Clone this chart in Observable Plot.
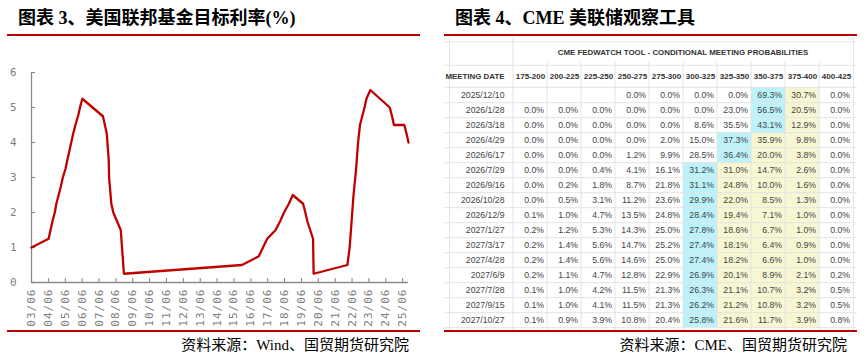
<!DOCTYPE html>
<html><head><meta charset="utf-8">
<script src="https://cdn.jsdelivr.net/npm/d3@7"></script>
<script src="https://cdn.jsdelivr.net/npm/@observablehq/plot@0.6"></script>
<style>
body{margin:0;background:#fff;}
#root{position:relative;width:867px;height:360px;background:#fff;overflow:hidden;}
.abs{position:absolute;}
.title{font-family:"Liberation Serif","Noto Sans CJK SC",serif;font-weight:bold;font-size:18px;line-height:20px;color:#000;white-space:nowrap;}
.src{font-family:"Liberation Serif","Noto Sans CJK SC",serif;font-size:15px;line-height:16px;color:#000;text-align:right;white-space:nowrap;}
.redline{background:#c00000;height:2px;}
svg{overflow:visible;}
</style></head><body>
<div id="root">
  <div class="abs title" style="left:18px;top:8px;">图表 3、美国联邦基金目标利率(%)</div>
  <div class="abs redline" style="left:7px;top:34px;width:413px;"></div>
  <div class="abs" id="left" style="left:0;top:40px;"></div>
  <div class="abs redline" style="left:7px;top:330px;width:413px;"></div>
  <div class="abs src" style="left:0;top:337px;width:409px;">资料来源：Wind、国贸期货研究院</div>

  <div class="abs title" style="left:455px;top:8px;">图表 4、CME 美联储观察工具</div>
  <div class="abs redline" style="left:444px;top:34px;width:413px;"></div>
  <div class="abs" id="right" style="left:444px;top:38px;"></div>
  <div class="abs redline" style="left:444px;top:330px;width:413px;"></div>
  <div class="abs src" style="left:444px;top:337px;width:403px;">资料来源：CME、国贸期货研究院</div>
</div>
<script>
// ---- Fed funds target rate (upper bound, %) at change points ----
const rateDates = [
  "2003-06-25","2004-06-30","2004-08-10","2004-09-21","2004-11-10","2004-12-14",
  "2005-02-02","2005-03-22","2005-05-03","2005-06-30","2005-08-09","2005-09-20","2005-11-01","2005-12-13",
  "2006-01-31","2006-03-28","2006-05-10","2006-06-29",
  "2007-09-18","2007-10-31","2007-12-11",
  "2008-01-22","2008-01-30","2008-03-18","2008-04-30","2008-10-08","2008-12-16",
  "2015-12-16","2016-12-14",
  "2017-03-15","2017-06-14","2017-12-13",
  "2018-03-21","2018-06-13","2018-09-26","2018-12-19",
  "2019-07-31","2019-09-18","2019-10-30",
  "2020-03-03","2020-03-15",
  "2022-03-16","2022-05-04","2022-06-15","2022-07-27","2022-09-21","2022-11-02","2022-12-14",
  "2023-02-01","2023-03-22","2023-05-03","2023-07-26",
  "2024-09-18","2024-11-07","2024-12-18",
  "2025-07-30","2025-09-17","2025-10-29"
];
const rateValues = [
  1.00,1.25,1.50,1.75,2.00,2.25,
  2.50,2.75,3.00,3.25,3.50,3.75,4.00,4.25,
  4.50,4.75,5.00,5.25,
  4.75,4.50,4.25,
  3.50,3.00,2.25,2.00,1.50,0.25,
  0.50,0.75,
  1.00,1.25,1.50,
  1.75,2.00,2.25,2.50,
  2.25,2.00,1.75,
  1.25,0.25,
  0.50,1.00,1.75,2.50,3.25,4.00,4.50,
  4.75,5.00,5.25,5.50,
  5.00,4.75,4.50,
  4.50,4.25,4.00
];
const xTickLabels = ["03/06","04/06","05/06","06/06","07/06","08/06","09/06","10/06","11/06","12/06","13/06",
  "14/06","15/06","16/06","17/06","18/06","19/06","20/06","21/06","22/06","23/06","24/06","25/06"];
const yTicks = [0,1,2,3,4,5,6];

// ---- CME FedWatch conditional meeting probabilities (%) ----
const tableTitle = "CME FEDWATCH TOOL - CONDITIONAL MEETING PROBABILITIES";
const dateHeader = "MEETING DATE";
const currentRange = "375-400";
const rateRanges = ["175-200","200-225","225-250","250-275","275-300","300-325","325-350","350-375","375-400","400-425"];
const meetingDates = ["2025/12/10","2026/1/28","2026/3/18","2026/4/29","2026/6/17","2026/7/29","2026/9/16","2026/10/28",
  "2026/12/9","2027/1/27","2027/3/17","2027/4/28","2027/6/9","2027/7/28","2027/9/15","2027/10/27"];
const probabilities = [
  [null,null,null,0.0,0.0,0.0,0.0,69.3,30.7,0.0],
  [0.0,0.0,0.0,0.0,0.0,0.0,23.0,56.5,20.5,0.0],
  [0.0,0.0,0.0,0.0,0.0,8.6,35.5,43.1,12.9,0.0],
  [0.0,0.0,0.0,0.0,2.0,15.0,37.3,35.9,9.8,0.0],
  [0.0,0.0,0.0,1.2,9.9,28.5,36.4,20.0,3.8,0.0],
  [0.0,0.0,0.4,4.1,16.1,31.2,31.0,14.7,2.6,0.0],
  [0.0,0.2,1.8,8.7,21.8,31.1,24.8,10.0,1.6,0.0],
  [0.0,0.5,3.1,11.2,23.6,29.9,22.0,8.5,1.3,0.0],
  [0.1,1.0,4.7,13.5,24.8,28.4,19.4,7.1,1.0,0.0],
  [0.2,1.2,5.3,14.3,25.0,27.8,18.6,6.7,1.0,0.0],
  [0.2,1.4,5.6,14.7,25.2,27.4,18.1,6.4,0.9,0.0],
  [0.2,1.4,5.6,14.6,25.0,27.4,18.2,6.6,1.0,0.0],
  [0.2,1.1,4.7,12.8,22.9,26.9,20.1,8.9,2.1,0.2],
  [0.1,1.0,4.2,11.5,21.3,26.3,21.1,10.7,3.2,0.5],
  [0.1,1.0,4.1,11.5,21.3,26.2,21.2,10.8,3.2,0.5],
  [0.1,0.9,3.9,10.8,20.4,25.8,21.6,11.7,3.9,0.8]
];

// ================= Left chart =================
const parseDay = d3.utcParse("%Y-%m-%d");
const rateData = rateDates.map((d, i) => ({date: parseDay(d), rate: rateValues[i]}));
const firstDate = rateData[0].date;
const dayOfFirst = d3.utcFormat("%d")(firstDate);
const tickDates = xTickLabels.map(s => d3.utcParse("%y/%m/%d")(s + "/" + dayOfFirst));

const leftPlot = Plot.plot({
  width: 420, height: 290,
  marginLeft: 31, marginRight: 12, marginTop: 32, marginBottom: 48,
  style: {fontFamily: '"DejaVu Sans Mono", monospace', fontSize: "11px", color: "#808080",
          background: "transparent", letterSpacing: "1px", overflow: "visible"},
  x: {type: "utc", domain: d3.extent(rateData, d => d.date)},
  y: {domain: [0, 6]},
  marks: [
    Plot.ruleX([firstDate], {stroke: "#8c8c8c", strokeWidth: 1.3}),
    Plot.ruleY([0], {stroke: "#8c8c8c", strokeWidth: 1.3}),
    Plot.axisY({ticks: yTicks, tickSize: -4, tickPadding: 18, tickFormat: d => String(d), label: null}),
    Plot.axisX({ticks: tickDates, tickFormat: d3.utcFormat("%y/%m"), tickSize: -4, tickPadding: 10, tickRotate: -90, label: null}),
    Plot.line(rateData, {x: "date", y: "rate", stroke: "#c00000", strokeWidth: 2.3})
  ]
});
document.getElementById("left").appendChild(leftPlot);

// ================= Right table =================
const currentIdx = rateRanges.indexOf(currentRange);
const cells = [];
meetingDates.forEach((date, r) => {
  const row = probabilities[r];
  const maxIdx = d3.maxIndex(row);
  rateRanges.forEach((range, c) => {
    cells.push({
      date, range, value: row[c],
      kind: c === maxIdx ? "max" : (c > maxIdx && c <= currentIdx ? "between" : "none")
    });
  });
});

const TW = 413, TH = 292, ML = 64, MT = 46, H2 = 22;
const bw = (TW - ML) / rateRanges.length;
const bh = (TH - MT) / meetingDates.length;
const grid = "#e3e3e3";

const tablePlot = Plot.plot({
  width: TW, height: TH,
  marginLeft: ML, marginRight: 0, marginTop: MT, marginBottom: 0,
  style: {fontFamily: '"Liberation Sans", Arial, sans-serif', fontSize: "8.7px", color: "#444",
          background: "transparent", overflow: "visible"},
  x: {type: "band", domain: rateRanges, padding: 0, axis: null},
  y: {type: "band", domain: meetingDates, padding: 0, axis: null},
  color: {type: "ordinal", domain: ["none", "max", "between"], range: ["#ffffff", "#bcf2fa", "#f7f7d3"]},
  marks: [
    Plot.cell(cells, {x: "range", y: "date", fill: "kind"}),
    // horizontal grid
    Plot.ruleY(meetingDates, {y: d => d, dy: bh / 2, insetLeft: -ML, stroke: grid}),
    Plot.ruleY(meetingDates.slice(0, 1), {y: d => d, dy: -bh / 2, insetLeft: -ML, stroke: grid}),
    Plot.ruleY(meetingDates.slice(0, 1), {y: d => d, dy: -bh / 2 - H2, insetLeft: -ML, stroke: grid}),
    Plot.ruleY(meetingDates.slice(0, 1), {y: d => d, dy: -bh / 2 - MT + 0.5, insetLeft: -ML, stroke: grid}),
    // vertical grid
    Plot.ruleX(rateRanges.slice(1), {x: d => d, dx: -bw / 2, insetTop: -H2, stroke: grid}),
    Plot.ruleX(rateRanges.slice(0, 1), {x: d => d, dx: -bw / 2, insetTop: -MT, stroke: grid}),
    Plot.ruleX(rateRanges.slice(-1), {x: d => d, dx: bw / 2 - 0.5, insetTop: -MT, stroke: grid}),
    Plot.ruleX(rateRanges.slice(0, 1), {x: d => d, dx: -bw / 2 - ML + 0.5, insetTop: -MT, stroke: grid}),
    // texts
    Plot.text(cells, {x: "range", y: "date", text: d => d.value == null ? "" : d.value.toFixed(1) + "%",
      textAnchor: "end", dx: bw / 2 - 4, fill: "#444"}),
    Plot.text(meetingDates, {y: d => d, frameAnchor: "left", textAnchor: "end", dx: -4, fill: "#444"}),
    Plot.text(rateRanges, {x: d => d, frameAnchor: "top", dy: -11, fontWeight: "bold", fontSize: 8, fill: "#333"}),
    Plot.text([dateHeader], {frameAnchor: "top-left", textAnchor: "end", dx: -4, dy: -11, fontWeight: "bold", fontSize: 7.9, fill: "#333"}),
    Plot.text([tableTitle], {frameAnchor: "top", dy: -35, fontWeight: "bold", fontSize: 7.9, fill: "#333"})
  ]
});
document.getElementById("right").appendChild(tablePlot);
</script>
</body></html>
